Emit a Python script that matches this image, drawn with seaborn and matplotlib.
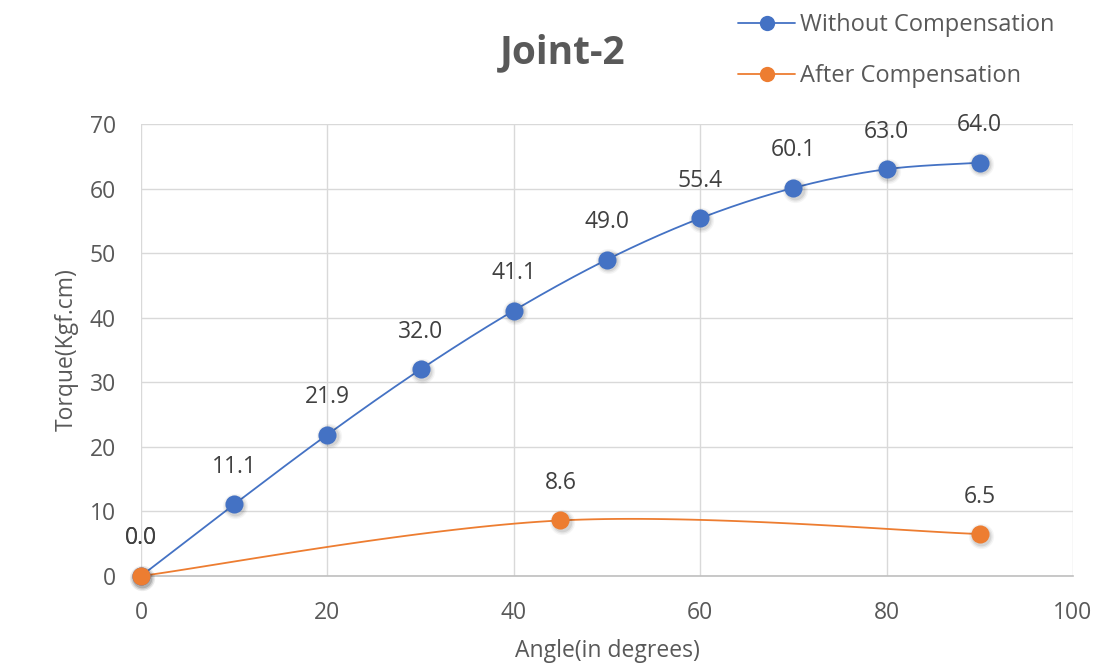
import numpy as np
import pandas as pd
import matplotlib
matplotlib.use("Agg")
import matplotlib.pyplot as plt
from matplotlib.lines import Line2D
import seaborn as sns

# Measured torque at each joint angle
angle_without = [0, 10, 20, 30, 40, 50, 60, 70, 80, 90]
torque_without = [0.0, 11.1, 21.9, 32.0, 41.1, 49.0, 55.4, 60.1, 63.0, 64.0]
angle_after = [0, 45, 90]
torque_after = [0.0, 8.6, 6.5]

series_names = ["Without Compensation", "After Compensation"]
x_ticks = [0, 20, 40, 60, 80, 100]
y_ticks = [0, 10, 20, 30, 40, 50, 60, 70]

BLUE = "#4472C4"
ORANGE = "#ED7D31"
TEXT = "#595959"
GRID = "#D9D9D9"


def smooth_curve(xs, ys, n=40):
    """Bezier smoothing through the points (control points from neighbours)."""
    xs = np.asarray(xs, float)
    ys = np.asarray(ys, float)
    pts = np.column_stack([xs, ys])
    out = [pts[0]]
    t = np.linspace(0, 1, n)[1:]
    for i in range(len(pts) - 1):
        p0 = pts[i - 1] if i > 0 else pts[i]
        p1 = pts[i]
        p2 = pts[i + 1]
        p3 = pts[i + 2] if i + 2 < len(pts) else pts[i + 1]
        c1 = p1 + (p2 - p0) / 6.0
        c2 = p2 - (p3 - p1) / 6.0
        for tt in t:
            b = ((1 - tt) ** 3) * p1 + 3 * ((1 - tt) ** 2) * tt * c1 \
                + 3 * (1 - tt) * tt ** 2 * c2 + tt ** 3 * p2
            out.append(b)
    out = np.array(out)
    return out[:, 0], out[:, 1]


sns.set_theme(style="white")
plt.rcParams["font.family"] = ["Open Sans", "DejaVu Sans"]

fig = plt.figure(figsize=(11.15, 6.71), dpi=100)
ax = fig.add_axes([0.1265, 0.1416, 0.8358, 0.6736])

series = [
    (series_names[0], angle_without, torque_without, BLUE),
    (series_names[1], angle_after, torque_after, ORANGE),
]

for name, xs, ys, color in series:
    sx, sy = smooth_curve(xs, ys)
    curve = pd.DataFrame({"x": sx, "y": sy})
    sns.lineplot(data=curve, x="x", y="y", ax=ax, color=color, lw=1.3,
                 sort=False, estimator=None, zorder=3)
    pts = pd.DataFrame({"x": xs, "y": ys})
    # soft marker shadow
    for s, a in ((330, 0.04), (260, 0.06), (200, 0.08)):
        ax.scatter(np.array(xs) + 0.12, np.array(ys) - 0.25, s=s, color="#000000",
                   alpha=a, linewidths=0, zorder=3.5, clip_on=False)
    sns.scatterplot(data=pts, x="x", y="y", ax=ax, color=color, s=170,
                    edgecolor=color, linewidth=0, zorder=4, clip_on=False)
    for x, y in zip(xs, ys):
        ax.annotate(f"{y:.1f}", (x, y), xytext=(0, 27), textcoords="offset points",
                    ha="center", va="center", fontsize=16.5, color="#404040")

ax.set_xlim(0, 100)
ax.set_ylim(0, 70)
ax.set_xticks(x_ticks)
ax.set_yticks(y_ticks)
ax.grid(True, color=GRID, lw=1)
ax.set_axisbelow(True)
for side in ["top", "right", "left"]:
    ax.spines[side].set_visible(False)
ax.spines["bottom"].set_color("#BFBFBF")
ax.spines["bottom"].set_linewidth(1.2)
ax.tick_params(axis="both", labelsize=16.5, colors=TEXT, length=0, pad=18)
ax.set_xlabel("Angle(in degrees)", fontsize=16.5, color=TEXT, labelpad=10)
ax.set_ylabel("Torque(Kgf.cm)", fontsize=16.5, color=TEXT, labelpad=8)
for lbl in ax.get_xticklabels() + ax.get_yticklabels():
    lbl.set_color(TEXT)

fig.text(0.505, 0.922, "Joint-2", ha="center", va="center", fontsize=28,
         fontweight="bold", color=TEXT)

handles = [Line2D([0], [0], color=c, lw=1.3, marker="o", markersize=11,
                  markeredgewidth=0) for c in (BLUE, ORANGE)]
fig.legend(handles, series_names, loc="upper left", bbox_to_anchor=(0.643, 1.012),
           frameon=False, fontsize=17, handlelength=2.4, labelspacing=1.15,
           handletextpad=0.2, labelcolor=TEXT)

fig.savefig("out.png", dpi=100, facecolor="white")
